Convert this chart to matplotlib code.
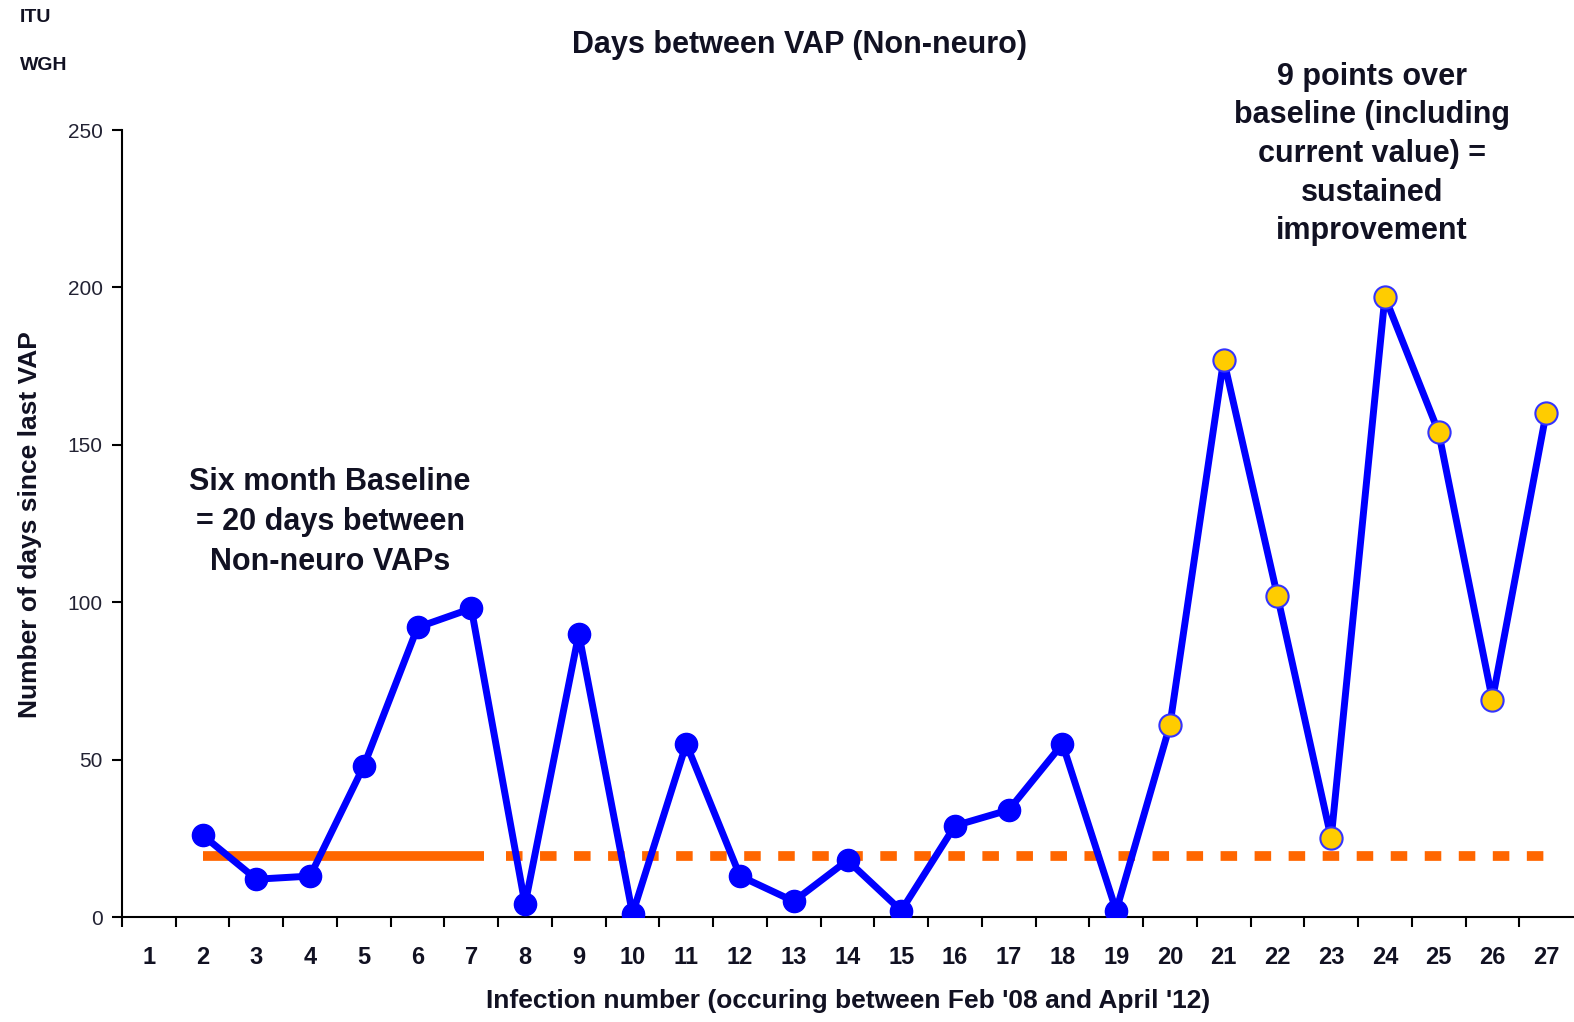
import matplotlib
matplotlib.use("Agg")
import matplotlib.pyplot as plt
import numpy as np

categories = list(range(1, 28))
blue_x = [2, 3, 4, 5, 6, 7, 8, 9, 10, 11, 12, 13, 14, 15, 16, 17, 18, 19]
blue_y = [26, 12, 13, 48, 92, 98, 4, 90, 1, 55, 13, 5, 18, 2, 29, 34, 55, 2]
yellow_x = [20, 21, 22, 23, 24, 25, 26, 27]
yellow_y = [61, 177, 102, 25, 197, 154, 69, 160]
baseline = 19.5
baseline_solid_x = [2, 7.24]
baseline_dash_x = [7.65, 27.2]
yticks = [0, 50, 100, 150, 200, 250]

plt.rcParams['font.family'] = ['Liberation Sans', 'DejaVu Sans']

fig = plt.figure(figsize=(15.74, 10.22), dpi=100)
W, H = 1574, 1022
ax = fig.add_axes([122 / W, 1 - 917 / H, (1573 - 122) / W, (917 - 130) / H])

ax.plot(baseline_solid_x, [baseline, baseline], color='#ff6600', lw=7, solid_capstyle='butt', zorder=2)
ax.plot(baseline_dash_x, [baseline, baseline], color='#ff6600', lw=7, dashes=(1.7, 1.8), zorder=2)

all_x = blue_x + yellow_x
all_y = blue_y + yellow_y
ax.plot(all_x, all_y, color='#0000ff', lw=5, zorder=3)
ax.plot(blue_x, blue_y, 'o', color='#0000ff', ms=16, zorder=4)
ax.plot(yellow_x, yellow_y, 'o', markerfacecolor='#ffcc00', markeredgecolor='#3333ff', mew=1.5, ms=16, zorder=4)

ax.set_xlim(0.5, 27.5)
ax.set_ylim(0, 250)
for s in ['top', 'right']:
    ax.spines[s].set_visible(False)
ax.spines['left'].set_linewidth(1.5)
ax.spines['bottom'].set_linewidth(1.5)

ax.set_xticks(categories)
ax.set_xticklabels([str(c) for c in categories], fontsize=17, fontweight='bold', color='#111122')
ax.set_xticks(np.arange(0.5, 27.5, 1), minor=True)
ax.tick_params(axis='x', which='major', length=0, pad=21)
ax.tick_params(axis='x', which='minor', length=7, width=1.5, direction='out')
ax.set_yticks(yticks)
ax.set_yticklabels([str(v) for v in yticks], fontsize=15, color='#222233')
ax.tick_params(axis='y', length=7, width=1.5, direction='out', pad=7)

fig.text(848 / W, 1 - 1001 / H, "Infection number (occuring between Feb '08 and April '12)",
         ha='center', va='center', fontsize=19, fontweight='bold', color='#111122')
fig.text(30 / W, 1 - 525 / H, "Number of days since last VAP", rotation=90,
         ha='center', va='center', fontsize=19, fontweight='bold', color='#111122')
fig.text(800 / W, 1 - 45 / H, "Days between VAP (Non-neuro)", ha='center', va='center',
         fontsize=22, fontweight='bold', color='#111122')
fig.text(20 / W, 1 - 18 / H, "ITU", ha='left', va='center', fontsize=14, fontweight='bold', color='#111122')
fig.text(20 / W, 1 - 66 / H, "WGH", ha='left', va='center', fontsize=14, fontweight='bold', color='#111122')

fig.text(330 / W, 1 - 522 / H, "Six month Baseline\n= 20 days between\nNon-neuro VAPs",
         ha='center', va='center', fontsize=22, fontweight='bold', linespacing=1.42, color='#111122')
fig.text(1372 / W, 1 - 154 / H, "9 points over\nbaseline (including\ncurrent value) =\nsustained\nimprovement",
         ha='center', va='center', fontsize=22, fontweight='bold', linespacing=1.38, color='#111122')

fig.savefig('out.png', dpi=100)
